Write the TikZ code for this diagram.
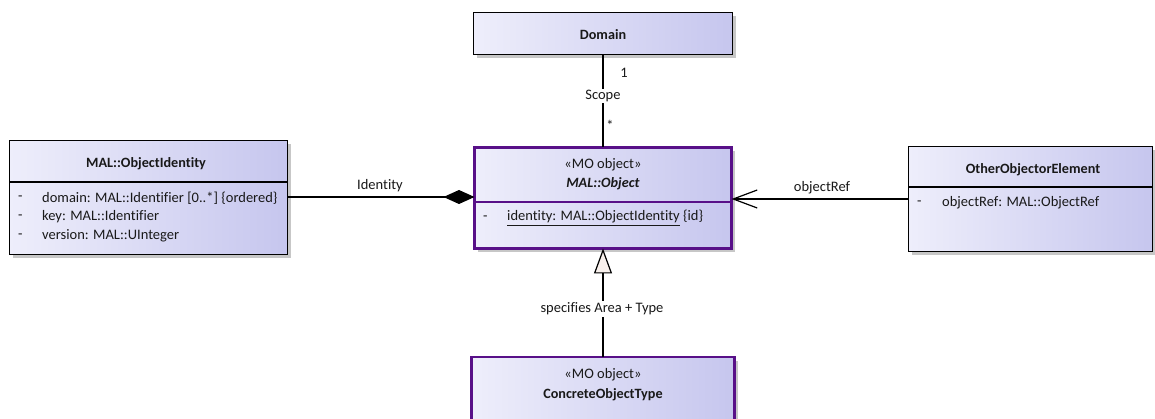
\documentclass[tikz,border=0pt]{standalone}
\usepackage{fontspec}
\setmainfont{Carlito}[Ligatures=NoCommon]
\usetikzlibrary{shadows,arrows.meta}
\definecolor{boxl}{RGB}{238,238,251}
\definecolor{boxr}{RGB}{198,198,238}
\definecolor{mopurple}{RGB}{88,16,136}
\definecolor{trifill}{RGB}{248,240,236}
\tikzset{
  cls/.style={draw=black, line width=1.3pt, left color=boxl, right color=boxr,
    drop shadow={shadow xshift=3.5pt, shadow yshift=-3.5pt, fill=black!22, opacity=1},
    inner sep=0pt, outer sep=0pt},
  mocls/.style={cls, draw=mopurple, line width=2.6pt},
  divider/.style={line width=1.2pt},
  modivider/.style={draw=mopurple, line width=2pt},
  conn/.style={line width=1.2pt, draw=black},
  txt/.style={inner sep=0pt, font=\fontsize{14.5}{16}\selectfont, text=black!90},
  ttl/.style={txt, font=\fontsize{14.2}{16}\selectfont\bfseries},
  lbl/.style={txt, fill=white, inner sep=1.5pt},
}
\begin{document}
\begin{tikzpicture}[x=1pt,y=-1pt]
\clip (0,0) rectangle (1155,419);
\fill[white] (0,0) rectangle (1155,419);
% boxes
\node[cls, minimum width=259pt, minimum height=42pt] (domain) at (603,33.5) {};
\node[mocls, minimum width=257pt, minimum height=101pt] (obj) at (603,198) {};
\node[cls, minimum width=278pt, minimum height=114pt] (ident) at (148.5,197.5) {};
\node[cls, minimum width=244pt, minimum height=105pt] (other) at (1030.5,199) {};
\node[mocls, minimum width=263pt, minimum height=90pt] (concrete) at (603,402) {};
% dividers
\draw[modivider] (obj.west |- 0,202) -- (obj.east |- 0,202);
\draw[divider] (ident.west |- 0,182) -- (ident.east |- 0,182);
\draw[divider] (other.west |- 0,187) -- (other.east |- 0,187);
% texts
\node[ttl] (tdomain) at (603,35) {Domain};
\node[ttl] (tident) at (146,164) {MAL::ObjectIdentity};
\node[txt, anchor=west] (d1) at (18,198) {-};
\node[txt, anchor=west] (a1) at (42,198) {domain: MAL::Identifier [0..*] \{ordered\}};
\node[txt, anchor=west] (d2) at (18,217) {-};
\node[txt, anchor=west] (a2) at (42,217) {key: MAL::Identifier};
\node[txt, anchor=west] (d3) at (18,236) {-};
\node[txt, anchor=west] (a3) at (42,236) {version: MAL::UInteger};
\node[txt] (sobj) at (603,165) {«MO object»};
\node[ttl] (tobj) at (603,184) {\textit{MAL::Object}};
\node[txt, anchor=west] (d4) at (483,218) {-};
\node[txt, anchor=west] (a4) at (507,218) {\underline{identity: MAL::ObjectIdentity} \{id\}};
\node[ttl] (tother) at (1033,170) {OtherObjectorElement};
\node[txt, anchor=west] (d5) at (917,203) {-};
\node[txt, anchor=west] (a5) at (942,203) {objectRef: MAL::ObjectRef};
\node[txt] (sconc) at (603,375) {«MO object»};
\node[ttl] (tconc) at (603,395) {ConcreteObjectType};
% connectors
\draw[conn] (domain.south) -- (obj.north);
\node[txt] (one) at (624,73) {1};
\node[lbl] (scope) at (603,96) {Scope};
\node[txt] (star) at (610,125) {*};
\draw[conn, -{Diamond[length=31pt,width=14pt,fill=black]}] (ident.east |- 0,197) -- (obj.west |- 0,197);
\node[txt] (lident) at (380,186) {Identity};
\draw[conn, -{Straight Barb[length=24pt,width=18pt]}] (other.west |- 0,199) -- (obj.east |- 0,199);
\node[txt] (lref) at (822,188) {objectRef};
\draw[conn, -{Triangle[length=25pt,width=18pt,fill=trifill]}] (concrete.north) -- (obj.south);
\node[lbl] (lspec) at (602,309) {specifies Area + Type};
\end{tikzpicture}
\end{document}
